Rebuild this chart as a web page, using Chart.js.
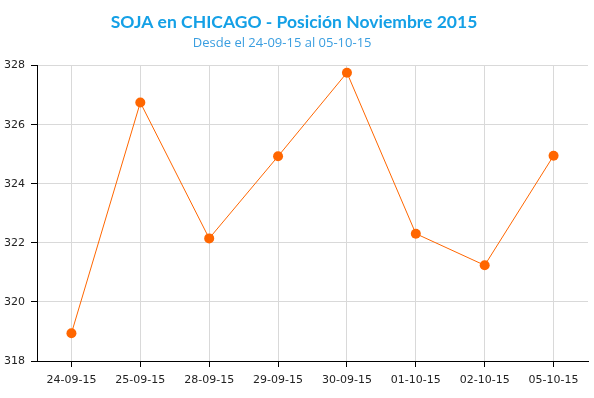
<!DOCTYPE html>
<html>
<head>
<meta charset="utf-8">
<script src="https://cdn.jsdelivr.net/npm/chart.js@4.4.0/dist/chart.umd.min.js"></script>
<style>
  html, body { margin: 0; padding: 0; background: #fff; }
  #wrap { width: 594px; height: 398px; }
</style>
</head>
<body>
<div id="wrap"><canvas id="sojaChart" width="594" height="398"></canvas></div>
<script>
// Fechas y precios (USD/tn)
const fechas = ['24-09-15', '25-09-15', '28-09-15', '29-09-15', '30-09-15', '01-10-15', '02-10-15', '05-10-15'];
const precios = [318.94, 326.75, 322.15, 324.93, 327.76, 322.31, 321.24, 324.95];
const yMin = 318;
const yMax = 328;
const yPaso = 2;

const ctx = document.getElementById('sojaChart').getContext('2d');
const sojaChart = new Chart(ctx, {
    type: 'line',
    data: {
        labels: fechas,
        datasets: [{
            label: 'Soja Chicago',
            data: precios,
            borderColor: '#ff6600',
            backgroundColor: '#ff6600',
            borderWidth: 1,
            pointRadius: 5,
            pointBorderWidth: 0,
            pointBackgroundColor: '#ff6600',
            tension: 0,
            fill: false
        }]
    },
    options: {
        responsive: false,
        animation: false,
        layout: { padding: { left: 0, right: 6, top: 0, bottom: 0 } },
        plugins: {
            legend: { display: false },
            tooltip: { enabled: false },
            title: {
                display: true,
                text: 'SOJA en CHICAGO - Posición Noviembre 2015',
                color: '#14a0e6',
                font: { family: 'Lato', size: 17.5, weight: 'bold' },
                padding: { top: 12, bottom: 1 }
            },
            subtitle: {
                display: true,
                // espacios finales para correr el subtitulo a la izquierda como en el original
                text: 'Desde el 24-09-15 al 05-10-15       ',
                color: '#3a9ee0',
                font: { family: 'Open Sans', size: 13 },
                padding: { top: 1, bottom: 15 }
            }
        },
        scales: {
            x: {
                offset: true,
                grid: { color: '#d9d9d9', tickColor: '#000', tickLength: 6, offset: false },
                border: { color: '#000' },
                ticks: {
                    color: '#222',
                    font: { family: 'DejaVu Sans', size: 11 },
                    padding: 7,
                    maxRotation: 0
                },
                afterFit: function (scale) { scale.height = 37; }
            },
            y: {
                min: yMin,
                max: yMax,
                grid: { color: '#d9d9d9', tickColor: '#000', tickLength: 6 },
                border: { color: '#000' },
                ticks: {
                    stepSize: yPaso,
                    color: '#222',
                    font: { family: 'DejaVu Sans', size: 11 },
                    padding: 6
                },
                afterFit: function (scale) { scale.width = 37; }
            }
        }
    }
});
</script>
</body>
</html>
